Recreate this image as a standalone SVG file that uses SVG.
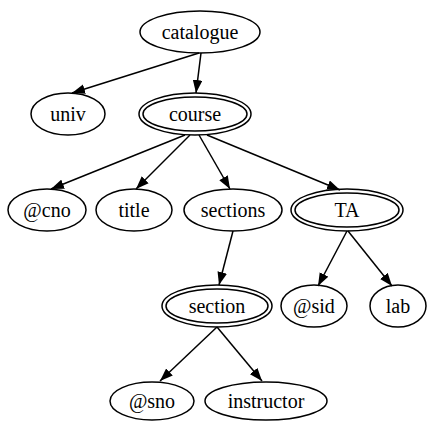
<svg xmlns="http://www.w3.org/2000/svg" width="435" height="421" viewBox="0 0 435 421">
<style>
.n ellipse{fill:none;stroke:#000;stroke-width:1.5}
.n text{font-size:20px;text-anchor:middle;fill:#000}
.e line{stroke:#000;stroke-width:1.5}
</style>
<defs>
<marker id="ah" markerUnits="userSpaceOnUse" markerWidth="13" markerHeight="10" refX="12" refY="4.5" orient="auto" viewBox="0 0 12 9">
<path d="M0,0 L12,4.5 L0,9 z" fill="#000"/>
</marker>
</defs>
<rect width="435" height="421" fill="#fff"/>
<g id="connectors" class="e">
<line x1="199" y1="53" x2="72" y2="93" marker-end="url(#ah)"/>
<line x1="201" y1="53" x2="196" y2="93" marker-end="url(#ah)"/>
<line x1="185" y1="135" x2="51" y2="189" marker-end="url(#ah)"/>
<line x1="190" y1="135" x2="136" y2="189" marker-end="url(#ah)"/>
<line x1="199" y1="135" x2="230" y2="189" marker-end="url(#ah)"/>
<line x1="207" y1="135" x2="340" y2="190" marker-end="url(#ah)"/>
<line x1="233" y1="231" x2="219" y2="285" marker-end="url(#ah)"/>
<line x1="347" y1="231" x2="318" y2="286" marker-end="url(#ah)"/>
<line x1="348" y1="231" x2="392" y2="286" marker-end="url(#ah)"/>
<line x1="217" y1="327" x2="160" y2="381" marker-end="url(#ah)"/>
<line x1="217" y1="327" x2="262" y2="381" marker-end="url(#ah)"/>
</g>
<g font-family="Liberation Serif, Times New Roman, Times, DejaVu Serif, serif">
<g id="catalogue" class="n"><ellipse cx="200" cy="32" rx="60" ry="21"/><text x="200" y="39">catalogue</text></g>
<g id="univ" class="n"><ellipse cx="68" cy="114" rx="37" ry="21"/><text x="68" y="121">univ</text></g>
<g id="course" class="n"><ellipse cx="195" cy="114" rx="56" ry="21"/><ellipse cx="195" cy="114" rx="52" ry="17"/><text x="195" y="121">course</text></g>
<g id="cno" class="n"><ellipse cx="47" cy="210" rx="39" ry="21"/><text x="47" y="217">@cno</text></g>
<g id="title" class="n"><ellipse cx="134" cy="210" rx="38" ry="21"/><text x="134" y="217">title</text></g>
<g id="sections" class="n"><ellipse cx="233" cy="210" rx="49" ry="21"/><text x="233" y="217">sections</text></g>
<g id="TA" class="n"><ellipse cx="347" cy="210" rx="56" ry="21"/><ellipse cx="347" cy="210" rx="52" ry="17"/><text x="347" y="217">TA</text></g>
<g id="section" class="n"><ellipse cx="217" cy="306" rx="55" ry="21"/><ellipse cx="217" cy="306" rx="51" ry="17"/><text x="217" y="313">section</text></g>
<g id="sid" class="n"><ellipse cx="314" cy="306" rx="33" ry="21"/><text x="314" y="313">@sid</text></g>
<g id="lab" class="n"><ellipse cx="398" cy="306" rx="28" ry="21"/><text x="398" y="313">lab</text></g>
<g id="sno" class="n"><ellipse cx="152" cy="401" rx="42" ry="19"/><text x="152" y="408">@sno</text></g>
<g id="instructor" class="n"><ellipse cx="266" cy="401" rx="61" ry="19"/><text x="266" y="408">instructor</text></g>
</g>
</svg>
